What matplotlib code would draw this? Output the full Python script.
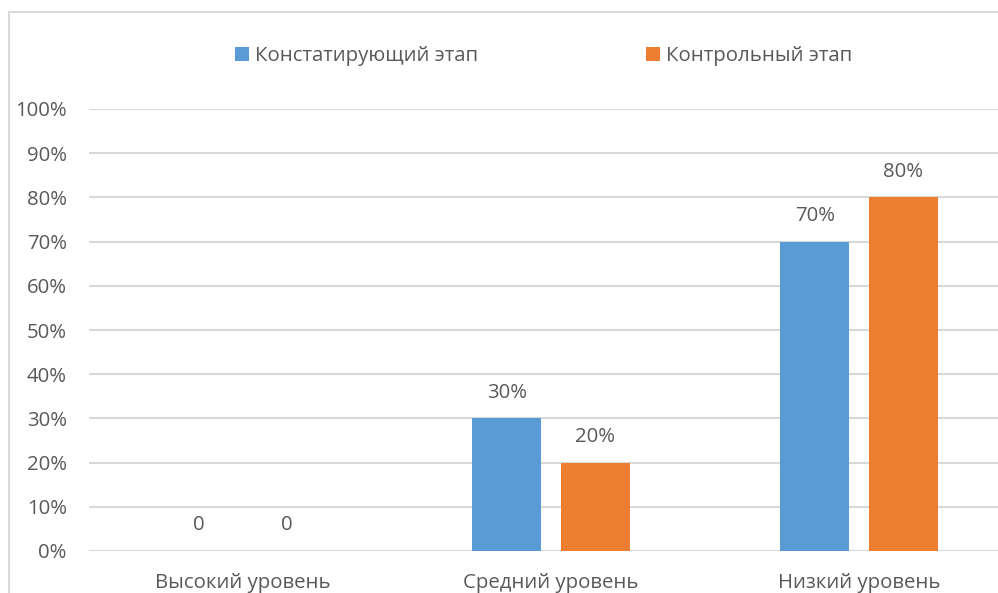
import matplotlib
matplotlib.use("Agg")
import matplotlib.pyplot as plt
from matplotlib.patches import Rectangle
import numpy as np

categories = ["Высокий уровень", "Средний уровень", "Низкий уровень"]
series_names = ["Констатирующий этап", "Контрольный этап"]
stage_initial = [0, 30, 70]
stage_control = [0, 20, 80]
yticks = [0, 10, 20, 30, 40, 50, 60, 70, 80, 90, 100]

BLUE = "#5B9BD5"
ORANGE = "#ED7D31"
TEXT = "#595959"
GRID = "#D9D9D9"
FS = 14.7

plt.rcParams["font.family"] = ["Open Sans", "DejaVu Sans"]

W, H = 998, 593
fig = plt.figure(figsize=(W / 100, H / 100), dpi=100)

# chart frame (runs past the right and bottom edges)
fig.patches.append(Rectangle((9 / W, -0.1), 1.2, (H - 12) / H + 0.1,
                             transform=fig.transFigure, fill=False,
                             edgecolor=GRID, linewidth=1.5))

ax = fig.add_axes([89 / W, 42 / H, 924 / W, 442 / H])
ax.set_xlim(-0.5, 2.5)
ax.set_ylim(0, 100)

x = np.arange(len(categories))
bw = 0.224
off = 0.143


def fmt(v):
    return "0" if v == 0 else f"{v}%"


for vals, color, sign, name in [(stage_initial, BLUE, -1, series_names[0]),
                                (stage_control, ORANGE, 1, series_names[1])]:
    bars = ax.bar(x + sign * off, vals, width=bw, color=color, label=name, zorder=3)
    for b, v in zip(bars, vals):
        ax.annotate(fmt(v), (b.get_x() + b.get_width() / 2, v),
                    xytext=(0, 18.5), textcoords="offset points",
                    ha="center", va="center", fontsize=FS, color=TEXT)

ax.set_yticks(yticks)
ax.set_yticklabels([f"{t}%" for t in yticks])
ax.set_xticks(x)
ax.set_xticklabels(categories)
ax.tick_params(axis="y", length=0, pad=16, labelsize=FS, labelcolor=TEXT)
ax.tick_params(axis="x", length=0, pad=16, labelsize=FS, labelcolor=TEXT)
ax.yaxis.grid(True, color=GRID, linewidth=1.5, zorder=0)
ax.set_axisbelow(True)
for s in ax.spines.values():
    s.set_visible(False)

leg = fig.legend(loc="center", bbox_to_anchor=(543.5 / W, 1 - 56 / H), ncol=2,
                 frameon=False, fontsize=FS, handlelength=0.69, handleheight=0.69,
                 handletextpad=0.3, columnspacing=8.2, labelcolor=TEXT)

fig.savefig("out.png", dpi=100)
